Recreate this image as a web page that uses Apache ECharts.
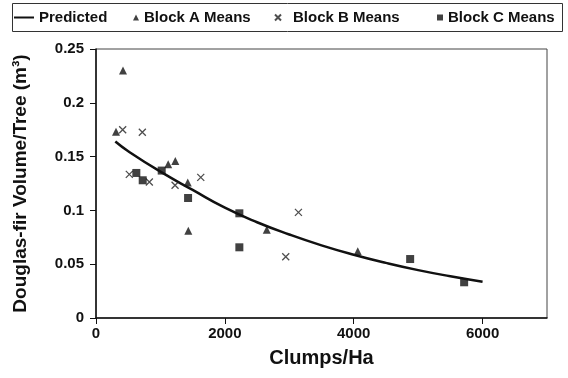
<!DOCTYPE html>
<html><head><meta charset="utf-8">
<script src="https://cdn.jsdelivr.net/npm/echarts@6/dist/echarts.min.js"></script>
<style>html,body{margin:0;padding:0;background:#fff}#c{width:568px;height:378px}</style>
</head><body><div id="c"></div>
<script>
// Predicted curve
const predX = [300, 500, 1000, 1500, 2000, 2500, 3000, 3500, 4000, 4500, 5000, 5500, 6000];
const predY = [0.164, 0.155, 0.136, 0.119, 0.1025, 0.089, 0.0776, 0.0675, 0.0588, 0.0512, 0.0445, 0.0388, 0.0337];
// Block A means
const aX = [310, 419, 1120, 1231, 1424, 1433, 2650, 4063];
const aY = [0.173, 0.230, 0.143, 0.146, 0.126, 0.081, 0.082, 0.062];
// Block B means
const bX = [414, 517, 719, 828, 1227, 1626, 2945, 3142];
const bY = [0.175, 0.1335, 0.1726, 0.1264, 0.1233, 0.1307, 0.057, 0.0982];
// Block C means
const cX = [626, 725, 1020, 1429, 2225, 2225, 4876, 5714];
const cY = [0.1348, 0.128, 0.137, 0.1115, 0.0973, 0.0657, 0.0548, 0.0332];
const xTicks = [0, 2000, 4000, 6000];
const yTicks = [0, 0.05, 0.1, 0.15, 0.2, 0.25];

const zip = (xs, ys) => xs.map((x, i) => [x, ys[i]]);
const FONT = 'Liberation Sans';
const crossPath = 'path://M0,0L10,10M10,0L0,10';
const legText = {fontFamily: FONT, fontWeight: 'bold', fontSize: 15, color: '#111'};

const chart = echarts.init(document.getElementById('c'), null, {renderer: 'canvas'});
chart.setOption({
  animation: false,
  backgroundColor: '#fff',
  grid: {left: 96, right: 21, top: 49, bottom: 60, show: true, borderColor: '#444', borderWidth: 1, backgroundColor: 'transparent'},
  graphic: [{type: 'rect', shape: {x: 12.5, y: 3.5, width: 550, height: 28}, style: {fill: 'none', stroke: '#333', lineWidth: 1}}],
  legend: [
    {data: [{name: 'Predicted', icon: 'rect'}], left: 14, top: 10, padding: 0, itemWidth: 20, itemHeight: 2, textStyle: legText},
    {data: [{name: 'Block A Means', icon: 'triangle'}], left: 133, top: 10, padding: 0, itemWidth: 6, itemHeight: 6, textStyle: legText},
    {data: [{name: 'Block B Means', icon: crossPath}], left: 274, top: 10, padding: 0, itemWidth: 6, itemHeight: 6, textStyle: Object.assign({}, legText, {padding: [0, 0, 0, 7]})},
    {data: [{name: 'Block C Means', icon: 'rect'}], left: 437, top: 10, padding: 0, itemWidth: 6, itemHeight: 6, textStyle: legText}
  ],
  xAxis: {
    type: 'value', min: 0, max: 7000, interval: 2000,
    name: 'Clumps/Ha', nameLocation: 'middle', nameGap: 30,
    nameTextStyle: {fontFamily: FONT, fontWeight: 'bold', fontSize: 20, color: '#111'},
    axisLine: {show: true, lineStyle: {color: '#111', width: 1.5}},
    axisTick: {show: true, length: 6, customValues: xTicks, lineStyle: {color: '#111'}},
    axisLabel: {fontFamily: FONT, fontWeight: 'bold', fontSize: 15, color: '#111', margin: 8,
      customValues: xTicks, formatter: v => String(v)},
    splitLine: {show: false}
  },
  yAxis: {
    type: 'value', min: 0, max: 0.25, interval: 0.05,
    name: 'Douglas-fir Volume/Tree (m³)', nameLocation: 'middle', nameGap: 66, nameRotate: 90,
    nameTextStyle: {fontFamily: FONT, fontWeight: 'bold', fontSize: 19, color: '#111'},
    axisLine: {show: true, lineStyle: {color: '#111', width: 1.5}},
    axisTick: {show: true, length: 6, lineStyle: {color: '#111'}},
    axisLabel: {fontFamily: FONT, fontWeight: 'bold', fontSize: 15, color: '#111', margin: 12,
      formatter: v => { const t = yTicks.find(k => Math.abs(k - v) < 1e-9); return t === undefined ? '' : String(t); }},
    splitLine: {show: false}
  },
  series: [
    {name: 'Predicted', type: 'line', data: zip(predX, predY), smooth: true, symbol: 'none',
      lineStyle: {color: '#111', width: 2.5}, itemStyle: {color: '#111'}, z: 2},
    {name: 'Block A Means', type: 'scatter', data: zip(aX, aY), symbol: 'triangle', symbolSize: 8,
      itemStyle: {color: '#111'}, z: 3},
    {name: 'Block B Means', type: 'scatter', data: zip(bX, bY), symbol: crossPath, symbolSize: 7,
      itemStyle: {color: 'transparent', borderColor: '#222', borderWidth: 1.3}, z: 3},
    {name: 'Block C Means', type: 'scatter', data: zip(cX, cY), symbol: 'rect', symbolSize: 8,
      itemStyle: {color: '#111'}, z: 3}
  ]
});
</script></body></html>
